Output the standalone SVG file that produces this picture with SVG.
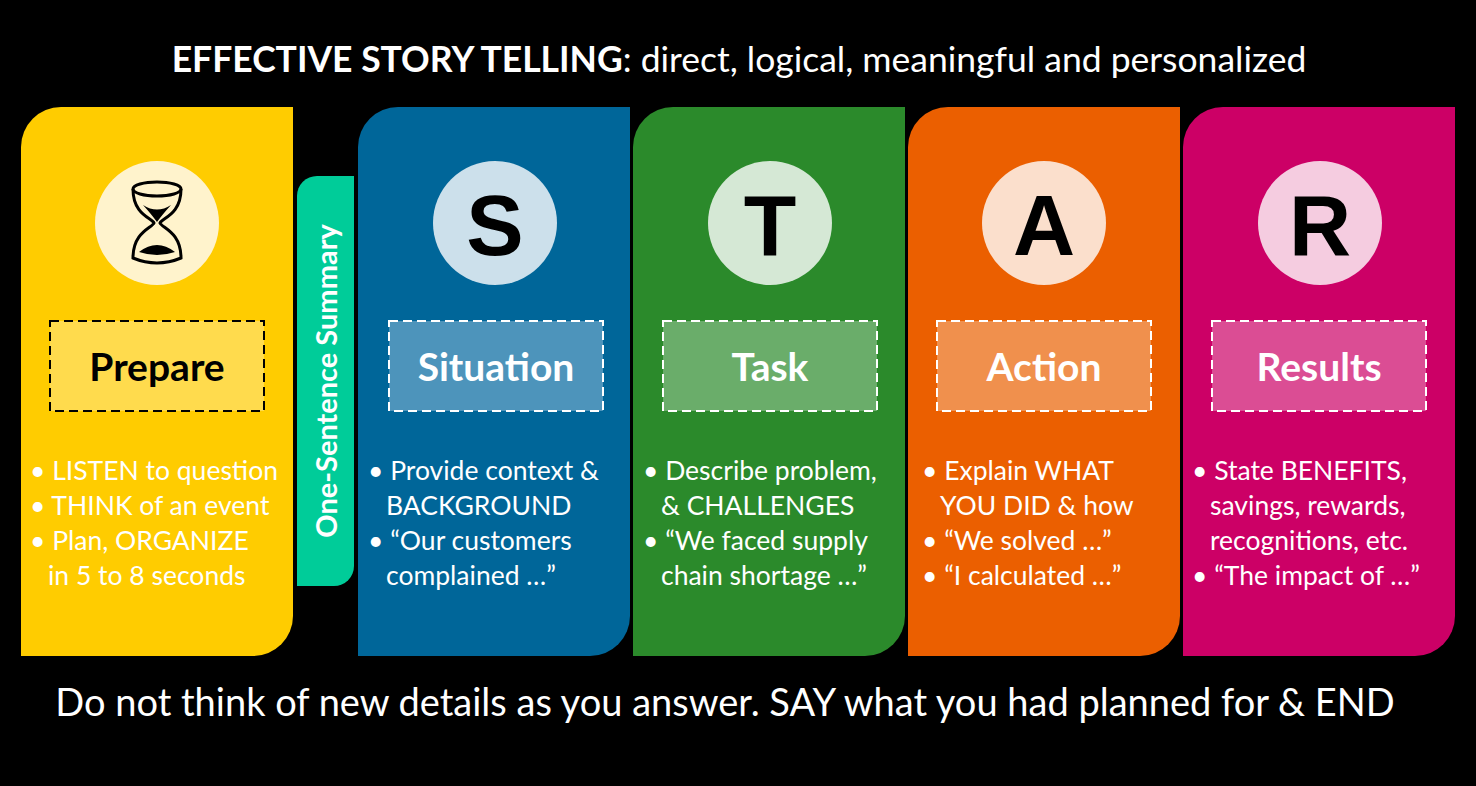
<svg xmlns="http://www.w3.org/2000/svg" width="1476" height="786" viewBox="0 0 1476 786">
<style>
.t{font-family:Lato,"Liberation Sans",sans-serif}
.h{font-family:Lato,"Liberation Sans",sans-serif;font-weight:bold;font-size:39px;text-anchor:middle}
.b{font-family:Lato,"Liberation Sans",sans-serif;font-size:26.5px;fill:#fff}
.L{font-family:"Liberation Sans",Arial,sans-serif;font-weight:bold;font-size:86px;text-anchor:middle}
.d{stroke-dasharray:9 5;stroke-width:2;fill-opacity:1}
</style>
<rect width="1476" height="786" fill="#000"/>
<text class="t" x="739" y="72" text-anchor="middle" font-size="35.5" fill="#fff"><tspan font-weight="bold">EFFECTIVE STORY TELLING</tspan>: direct, logical, meaningful and personalized</text>
<g id="prepare">
<path d="M61,107 H293 V616 A40,40 0 0 1 253,656 H21 V147 A40,40 0 0 1 61,107Z" fill="#FFCC00"/>
<circle cx="157" cy="223" r="62" fill="#FFF3CC"/>
<g fill="none" stroke="#000" stroke-width="3">
<ellipse cx="157" cy="189" rx="24" ry="7"/>
<path d="M133,189 C133,215 152,218 154,223 C152,228 133,232 133,258 Q157,268 181,258 C181,232 162,228 160,223 C162,218 181,215 181,189"/>
</g>
<path d="M143,205 Q157,214 171,205 Q162,215 157,222 Q152,215 143,205Z M139,252 Q157,238 175,252 Q157,258 139,252Z" fill="#000"/>
<rect class="d" x="50" y="321" width="214" height="90" fill="#FFDB4D" stroke="#000"/>
<text class="h" x="157" y="381" fill="#000">Prepare</text>
<text class="b" fill="#000"><tspan x="30" y="480">• LISTEN to question</tspan><tspan x="30" y="515">• THINK of an event</tspan><tspan x="30" y="550">• Plan, ORGANIZE</tspan><tspan x="48" y="585">in 5 to 8 seconds</tspan></text>
</g>
<g id="summary">
<path d="M317,176 H354 V566 A20,20 0 0 1 334,586 H297 V196 A20,20 0 0 1 317,176Z" fill="#00CC99"/>
<text class="t" transform="translate(337,381) rotate(-90)" text-anchor="middle" font-size="29" font-weight="bold" fill="#fff">One-Sentence Summary</text>
</g>
<g id="situation">
<path d="M398,107 H630 V616 A40,40 0 0 1 590,656 H358 V147 A40,40 0 0 1 398,107Z" fill="#006699"/>
<circle cx="495" cy="223" r="62" fill="#CCE0EB"/>
<text class="L" x="495" y="255" fill="#000">S</text>
<rect class="d" x="389" y="321" width="214" height="90" fill="#4D94BB" stroke="#fff"/>
<text class="h" x="496" y="381" fill="#fff">Situation</text>
<text class="b"><tspan x="368" y="480">• Provide context &amp;</tspan><tspan x="386" y="515">BACKGROUND</tspan><tspan x="368" y="550">• “Our customers</tspan><tspan x="386" y="585">complained …”</tspan></text>
</g>
<g id="task">
<path d="M673,107 H905 V616 A40,40 0 0 1 865,656 H633 V147 A40,40 0 0 1 673,107Z" fill="#2B8A2B"/>
<circle cx="770" cy="223" r="62" fill="#D5E8D5"/>
<text class="L" x="770" y="255" fill="#000">T</text>
<rect class="d" x="663" y="321" width="214" height="90" fill="#6AAD6A" stroke="#fff"/>
<text class="h" x="770" y="381" fill="#fff">Task</text>
<text class="b"><tspan x="643" y="480">• Describe problem,</tspan><tspan x="661" y="515">&amp; CHALLENGES</tspan><tspan x="643" y="550">• “We faced supply</tspan><tspan x="661" y="585">chain shortage …”</tspan></text>
</g>
<g id="action">
<path d="M948,107 H1180 V616 A40,40 0 0 1 1140,656 H908 V147 A40,40 0 0 1 948,107Z" fill="#EB5F00"/>
<circle cx="1044" cy="223" r="62" fill="#FBDFCC"/>
<text class="L" x="1044" y="255" fill="#000">A</text>
<rect class="d" x="937" y="321" width="214" height="90" fill="#F0904D" stroke="#fff"/>
<text class="h" x="1044" y="381" fill="#fff">Action</text>
<text class="b"><tspan x="922" y="480">• Explain WHAT</tspan><tspan x="940" y="515">YOU DID &amp; how</tspan><tspan x="922" y="550">• “We solved …”</tspan><tspan x="922" y="585">• “I calculated …”</tspan></text>
</g>
<g id="results">
<path d="M1223,107 H1455 V616 A40,40 0 0 1 1415,656 H1183 V147 A40,40 0 0 1 1223,107Z" fill="#CC0066"/>
<circle cx="1320" cy="223" r="62" fill="#F5CCE0"/>
<text class="L" x="1320" y="255" fill="#000">R</text>
<rect class="d" x="1212" y="321" width="214" height="90" fill="#DB4D94" stroke="#fff"/>
<text class="h" x="1319" y="381" fill="#fff">Results</text>
<text class="b"><tspan x="1192" y="480">• State BENEFITS,</tspan><tspan x="1210" y="515">savings, rewards,</tspan><tspan x="1210" y="550">recognitions, etc.</tspan><tspan x="1192" y="585">• “The impact of …”</tspan></text>
</g>
<g id="connectors"/>
<text class="t" x="725" y="716" text-anchor="middle" font-size="38" fill="#fff">Do not think of new details as you answer. SAY what you had planned for &amp; END</text>
</svg>
